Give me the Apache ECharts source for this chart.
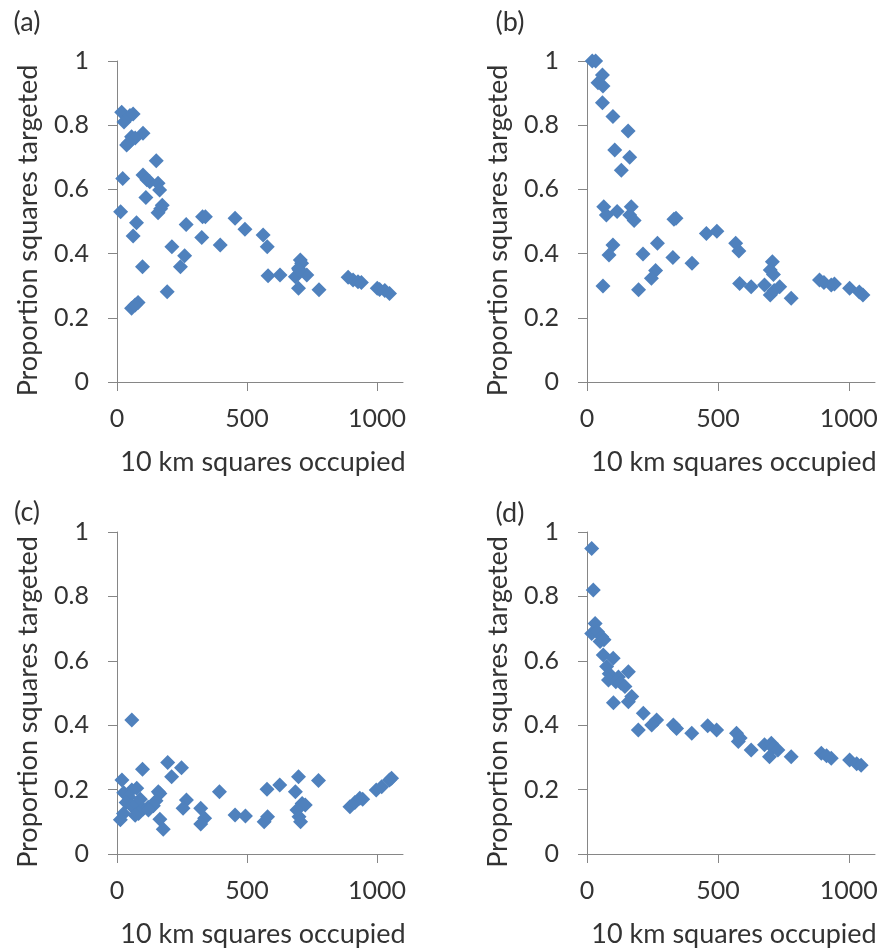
<!DOCTYPE html>
<html>
<head>
<meta charset="utf-8">
<script src="https://cdn.jsdelivr.net/npm/echarts@6/dist/echarts.min.js"></script>
<style>
  html, body { margin: 0; padding: 0; background: #fff; }
  #chart { width: 883px; height: 949px; }
</style>
</head>
<body>
<div id="chart"></div>
<script>
var chartDom = document.getElementById('chart');
var myChart = echarts.init(chartDom);

// [10 km squares occupied, proportion squares targeted]
var panelA = [
  [18, 0.84], [27, 0.81], [50, 0.83], [62, 0.835], [100, 0.775], [56, 0.764], [70, 0.76],
  [37, 0.738], [45, 0.745], [151, 0.689], [22, 0.634], [100, 0.645], [115, 0.63], [126, 0.624],
  [158, 0.619], [164, 0.598], [111, 0.575], [174, 0.551], [158, 0.527], [168, 0.54], [14, 0.53],
  [75, 0.496], [62, 0.455], [266, 0.491], [329, 0.515], [340, 0.515], [454, 0.51], [492, 0.476],
  [562, 0.458], [578, 0.421], [326, 0.45], [397, 0.427], [211, 0.421], [260, 0.393], [244, 0.359],
  [98, 0.359], [193, 0.281], [56, 0.23], [81, 0.248], [70, 0.24], [581, 0.331], [627, 0.333],
  [705, 0.38], [710, 0.37], [698, 0.354], [730, 0.333], [686, 0.328], [700, 0.35], [698, 0.292],
  [777, 0.287], [889, 0.326], [908, 0.318], [927, 0.312], [940, 0.31], [1001, 0.292], [1010, 0.288],
  [1030, 0.285], [1048, 0.276]
];
var panelB = [
  [20, 1.0], [33, 1.0], [59, 0.956], [42, 0.932], [61, 0.922], [59, 0.87], [99, 0.827], [157, 0.782],
  [106, 0.723], [163, 0.7], [131, 0.66], [64, 0.546], [74, 0.52], [115, 0.531], [169, 0.546],
  [163, 0.52], [180, 0.503], [332, 0.507], [340, 0.51], [456, 0.463], [496, 0.47], [568, 0.432],
  [580, 0.408], [99, 0.427], [84, 0.396], [269, 0.432], [214, 0.399], [328, 0.388], [401, 0.37],
  [262, 0.347], [246, 0.323], [61, 0.299], [197, 0.287], [583, 0.307], [627, 0.297], [708, 0.375],
  [700, 0.349], [712, 0.335], [678, 0.302], [736, 0.297], [700, 0.271], [715, 0.285], [780, 0.261],
  [888, 0.318], [905, 0.31], [933, 0.302], [945, 0.305], [1003, 0.292], [1040, 0.28], [1054, 0.271]
];
var panelC = [
  [57, 0.416], [98, 0.263], [195, 0.284], [248, 0.268], [210, 0.24], [19, 0.23], [26, 0.19],
  [57, 0.199], [76, 0.204], [159, 0.193], [165, 0.188], [45, 0.178], [35, 0.16], [55, 0.15],
  [75, 0.155], [90, 0.17], [100, 0.14], [120, 0.145], [140, 0.15], [150, 0.165], [267, 0.168],
  [254, 0.142], [394, 0.193], [322, 0.142], [337, 0.111], [322, 0.093], [13, 0.106], [25, 0.126],
  [165, 0.108], [178, 0.077], [454, 0.121], [494, 0.118], [83, 0.126], [70, 0.12], [121, 0.137],
  [566, 0.1], [579, 0.116], [577, 0.201], [626, 0.214], [698, 0.24], [775, 0.228], [686, 0.193],
  [712, 0.157], [724, 0.152], [692, 0.137], [700, 0.116], [706, 0.1], [896, 0.147], [915, 0.16],
  [934, 0.173], [945, 0.17], [997, 0.199], [1018, 0.209], [1048, 0.23], [1056, 0.235]
];
var panelD = [
  [18, 0.949], [24, 0.82], [31, 0.716], [18, 0.685], [40, 0.69], [56, 0.675], [50, 0.66], [65, 0.665],
  [62, 0.618], [100, 0.608], [75, 0.582], [85, 0.56], [120, 0.55], [158, 0.566], [82, 0.54],
  [110, 0.535], [130, 0.53], [145, 0.52], [171, 0.489], [158, 0.473], [101, 0.47], [215, 0.437],
  [266, 0.416], [247, 0.401], [196, 0.385], [330, 0.401], [342, 0.39], [400, 0.375], [461, 0.398],
  [495, 0.385], [571, 0.375], [578, 0.349], [585, 0.36], [627, 0.323], [678, 0.339], [704, 0.344],
  [697, 0.302], [710, 0.33], [729, 0.323], [780, 0.302], [895, 0.313], [915, 0.305], [933, 0.297],
  [1003, 0.292], [1030, 0.28], [1047, 0.276]
];
var panelLetters = ['(a)', '(b)', '(c)', '(d)'];
var xTicks = [0, 500, 1000];
var xTitle = '10 km squares occupied';
var yTitle = 'Proportion squares targeted';

var font = 'Lato, "Open Sans", sans-serif';
var textColor = '#333333';
var axisColor = '#868686';
var markerColor = '#4f81bd';

// panel boxes in pixels, plus where the panel letter sits
var boxes = [
  { left: 117, top: 61, width: 286, height: 321, lx: 27, ly: 22 },
  { left: 587, top: 61, width: 288, height: 321, lx: 510, ly: 22 },
  { left: 117, top: 532, width: 286, height: 322, lx: 27, ly: 512 },
  { left: 587, top: 532, width: 288, height: 322, lx: 510, ly: 513 }
];
var allData = [panelA, panelB, panelC, panelD];

var grids = [], xAxes = [], yAxes = [], series = [], graphics = [];

boxes.forEach(function (b, i) {
  grids.push({ left: b.left, top: b.top, width: b.width, height: b.height });
  xAxes.push({
    type: 'value', gridIndex: i, min: 0, max: 1100,
    axisLine: { lineStyle: { color: axisColor, width: 1 } },
    axisTick: { show: true, inside: false, length: 9, customValues: xTicks, lineStyle: { color: axisColor } },
    axisLabel: {
      customValues: xTicks, margin: 24, color: textColor, fontSize: 25, fontFamily: font,
      formatter: function (v) { return String(v); }
    },
    splitLine: { show: false }
  });
  yAxes.push({
    type: 'value', gridIndex: i, min: 0, max: 1, interval: 0.2,
    axisLine: { show: true, lineStyle: { color: axisColor, width: 1 } },
    axisTick: { show: true, inside: false, length: 9, lineStyle: { color: axisColor } },
    axisLabel: { margin: 28, color: textColor, fontSize: 25, fontFamily: font },
    splitLine: { show: false }
  });
  series.push({
    type: 'scatter', xAxisIndex: i, yAxisIndex: i,
    symbol: 'diamond', symbolSize: 15,
    itemStyle: { color: markerColor, opacity: 1 },
    data: allData[i]
  });
  // axis titles
  graphics.push({
    type: 'text', x: b.left + b.width / 2 + 3, y: b.top + b.height + 80,
    style: { text: xTitle, font: '27px ' + font, fill: textColor, textAlign: 'center', textVerticalAlign: 'middle' }
  });
  graphics.push({
    type: 'text', x: b.left - 89, y: b.top + b.height / 2 + 9, rotation: Math.PI / 2,
    style: { text: yTitle, font: '27px ' + font, fill: textColor, textAlign: 'center', textVerticalAlign: 'middle' }
  });
  // panel letter
  graphics.push({
    type: 'text', x: b.lx, y: b.ly,
    style: { text: panelLetters[i], font: '27px ' + font, fill: textColor, textAlign: 'center', textVerticalAlign: 'middle' }
  });
});

var option = {
  backgroundColor: '#fff',
  animation: false,
  grid: grids,
  xAxis: xAxes,
  yAxis: yAxes,
  series: series,
  graphic: graphics
};

option && myChart.setOption(option);
</script>
</body>
</html>
